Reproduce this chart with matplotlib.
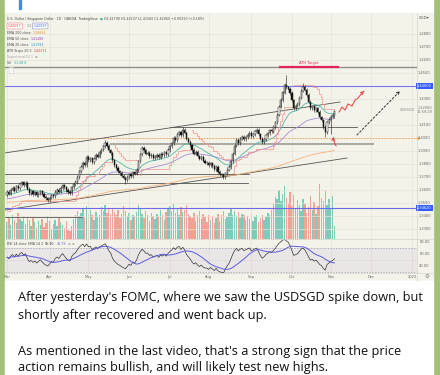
import numpy as np
import matplotlib
matplotlib.use("Agg")
import matplotlib.pyplot as plt
from matplotlib.patches import Rectangle
from matplotlib.transforms import blended_transform_factory

######################################################################
# USDSGD daily closes, 1 Mar .. 3 Nov
closes = [
    1.3585, 1.3572, 1.3601, 1.3618, 1.3596, 1.3630, 1.3612, 1.3645, 1.3660, 1.3638,
    1.3654, 1.3610, 1.3577, 1.3590, 1.3568, 1.3582, 1.3560, 1.3575, 1.3590, 1.3570,
    1.3548, 1.3535, 1.3523, 1.3540, 1.3560, 1.3552, 1.3585, 1.3600, 1.3588, 1.3615,
    1.3638, 1.3620, 1.3600, 1.3585, 1.3577, 1.3620, 1.3645, 1.3662, 1.3700, 1.3745,
    1.3777, 1.3810, 1.3790, 1.3854, 1.3830, 1.3845, 1.3815, 1.3840, 1.3870, 1.3855,
    1.3892, 1.3910, 1.3935, 1.3962, 1.3940, 1.3905, 1.3885, 1.3830, 1.3792, 1.3770,
    1.3745, 1.3731, 1.3710, 1.3695, 1.3677, 1.3700, 1.3720, 1.3705, 1.3738, 1.3725,
    1.3754, 1.3820, 1.3875, 1.3923, 1.3905, 1.3880, 1.3885, 1.3860, 1.3872, 1.3845,
    1.3854, 1.3870, 1.3850, 1.3880, 1.3869, 1.3890, 1.3875, 1.3908, 1.3935, 1.3960,
    1.4000, 1.3985, 1.4030, 1.4045, 1.4020, 1.4062, 1.4040, 1.3995, 1.3970, 1.3945,
    1.3908, 1.3880, 1.3895, 1.3860, 1.3840, 1.3855, 1.3825, 1.3810, 1.3808, 1.3790,
    1.3805, 1.3785, 1.3760, 1.3777, 1.3740, 1.3722, 1.3715, 1.3700, 1.3730, 1.3755,
    1.3777, 1.3820, 1.3880, 1.3940, 1.3985, 1.3960, 1.3995, 1.4010, 1.3990, 1.4005,
    1.4023, 1.4040, 1.4015, 1.4030, 1.4050, 1.4062, 1.4030, 1.3995, 1.3969, 1.3990,
    1.4020, 1.4035, 1.4060, 1.4050, 1.4085, 1.4120, 1.4180, 1.4240, 1.4292, 1.4350,
    1.4408, 1.4390, 1.4380, 1.4346, 1.4290, 1.4231, 1.4250, 1.4262, 1.4310, 1.4365,
    1.4392, 1.4370, 1.4331, 1.4280, 1.4231, 1.4245, 1.4215, 1.4230, 1.4200, 1.4160,
    1.4138, 1.4085, 1.4045, 1.4120, 1.4140, 1.4165, 1.4179, 1.4206,
]
first_open = 1.3560
# wicks that clearly stick out: bar index -> (high, low)
wick_marks = {53: (1.3985, None), 64: (None, 1.3650), 95: (1.4085, None),
              117: (None, 1.3685), 151: (1.4485, None), 160: (1.4423, None),
              172: (None, 1.4010), 175: (None, 1.4030), 177: (1.42137, 1.41560)}

# volume, thousands
volumes = [
    18, 22, 15, 25, 20, 17, 28, 21, 19, 24,
    16, 23, 20, 14, 22, 18, 12, 19, 15, 21,
    13, 17, 24, 19, 11, 16, 20, 14, 22, 18,
    15, 12, 19, 10, 8, 14, 21, 26, 30, 24,
    28, 33, 22, 35, 27, 31, 25, 20, 29, 23,
    26, 34, 30, 36, 28, 32, 27, 33, 29, 25,
    31, 22, 27, 35, 30, 24, 28, 20, 26, 23,
    29, 36, 33, 27, 22, 30, 25, 19, 28, 24,
    21, 27, 23, 31, 26, 20, 29, 33, 35, 30,
    37, 28, 32, 26, 34, 29, 31, 36, 27, 24,
    22, 28, 19, 25, 30, 21, 27, 23, 18, 26,
    20, 24, 17, 22, 27, 19, 25, 30, 21, 23,
    28, 33, 26, 30, 24, 29, 22, 27, 25, 20,
    24, 21, 27, 19, 23, 26, 18, 22, 25, 20,
    23, 28, 25, 31, 38, 45, 42, 52, 40, 48,
    56, 44, 38, 50, 35, 47, 33, 41, 36, 30,
    43, 37, 28, 34, 46, 31, 39, 27, 35, 58,
    44, 40, 52, 36, 42, 33, 46, 14,
]

# time axis: bar index where each month starts
month_idx = [0, 23, 44, 66, 88, 109, 132, 154, 175, 197, 219]
month_labels = ["Mar", "Apr", "May", "Jun", "Jul", "Aug", "Sep", "Oct", "Nov", "Dec", "2023"]

price_ticks = [1.48, 1.47, 1.46, 1.45, 1.43, 1.41, 1.40, 1.39, 1.38,
               1.37, 1.36, 1.35, 1.34, 1.33]
rsi_ticks = [80, 60, 40]

# drawings on the chart (bar index, price)
ath_level = 1.4546
blue_top = 1.4400
blue_low = 1.3462
round_level = 1.4000
upper_trend = ([-1.1, 180.0], [1.3885, 1.4277])
lower_trend = ([-1.1, 183.8], [1.3446, 1.3846])
hlines = [  # level, start, end, width, colour
    (1.4085, 88, 189, 0.6, "#555555"),
    (1.3954, 56, 198, 1.4, "#a9a9a4"),
    (1.3723, -1.1, 131, 0.6, "#555555"),
    (1.3654, -1.1, 130, 0.6, "#555555"),
    (1.3392, -1.1, 40.5, 0.6, "#555555"),
]
wave_i = [179.5, 181.1, 182.7, 184.3, 186.5, 188.1, 189.7, 191.9, 194.1]
wave_p = [1.4200, 1.4238, 1.4215, 1.4262, 1.4246, 1.4292, 1.4308, 1.4346, 1.4377]
dash_arrow = ((188.1, 1.4008), (213.5, 1.4377))
small_arrow = ((178.9, 1.3923), (176.8, 1.4031))

BG = "#f4f3ea"
TXT = "#4a4a4a"
W, H = 440, 375


def fx(x):
    return x / W


def fy(y):
    return 1 - y / H


def ema(values, n, seed):
    a = 2.0 / (n + 1)
    out, e = [], seed
    for v in values:
        e = e + a * (v - e)
        out.append(e)
    return np.array(out)


c = np.array(closes)
o = np.concatenate([[first_open], c[:-1]])
pad = 0.0012
hi = np.maximum(o, c) + pad
lo = np.minimum(o, c) - pad
for k, (h_, l_) in wick_marks.items():
    if h_ is not None:
        hi[k] = h_
    if l_ is not None:
        lo[k] = l_
x = np.arange(len(c))

ema20 = ema(c, 20, 1.3560)
ema50 = ema(c, 50, 1.3530)
ema200 = ema(c, 200, 1.3505)

# ATR stops (20, 3)
prev_c = np.concatenate([[o[0]], c[:-1]])
tr = np.maximum(hi - lo, np.maximum(abs(hi - prev_c), abs(lo - prev_c)))
atr = np.zeros_like(tr)
atr[0] = tr[0]
for k in range(1, len(tr)):
    atr[k] = atr[k - 1] + (tr[k] - atr[k - 1]) / 20
stops = np.zeros_like(c)
trend = 1
stops[0] = c[0] - 3 * atr[0]
breaks = []
for k in range(1, len(c)):
    if trend == 1:
        s = max(stops[k - 1], c[k] - 3 * atr[k])
        if c[k] < s:
            trend, s = -1, c[k] + 3 * atr[k]
            breaks.append(k)
    else:
        s = min(stops[k - 1], c[k] + 3 * atr[k])
        if c[k] > s:
            trend, s = 1, c[k] - 3 * atr[k]
            breaks.append(k)
    stops[k] = s

# RSI 14 and its SMA 14
d = np.diff(c, prepend=first_open)
gain, loss = np.clip(d, 0, None), np.clip(-d, 0, None)
ag, al = np.zeros_like(c), np.zeros_like(c)
ag[0], al[0] = 0.0012, 0.0010
for k in range(1, len(c)):
    ag[k] = ag[k - 1] + (gain[k] - ag[k - 1]) / 14
    al[k] = al[k - 1] + (loss[k] - al[k - 1]) / 14
rsi = 100 - 100 / (1 + ag / al)
rsi_ma = np.array([rsi[max(0, k - 13):k + 1].mean() for k in range(len(rsi))])

######################################################################
fig = plt.figure(figsize=(4.4, 3.75), dpi=100, facecolor="#a2c076")
for (x0, y0, x1, y1, col) in [(5, 0, 433, 13, "white"), (5, 13, 433, 281, BG),
                              (5, 281, 433, 375, "white"), (19, 0, 21, 9, "#3390ec")]:
    fig.patches.append(Rectangle((fx(x0), fy(y1)), fx(x1 - x0), (y1 - y0) / H,
                                 transform=fig.transFigure, color=col, zorder=-10))

ax = fig.add_axes([fx(5), fy(239), fx(412), (239 - 13) / H])
vax = ax.twinx()
rax = fig.add_axes([fx(5), fy(273), fx(412), (273 - 239) / H])

xlim = (-1.1, 221.6)
ymin, ymax = 1.40 - 101 / 1300, 1.40 + 125 / 1300

# volume behind the price pane
vax.set_zorder(0.5)
ax.set_zorder(1)
rax.set_zorder(1)
ax.patch.set_visible(False)
vax.patch.set_visible(False)
vcol = ["#7fcbbb" if cc >= oo else "#f2a196" for oo, cc in zip(o, c)]
vax.bar(x, volumes, width=0.75, color=vcol, linewidth=0)
vax.set_ylim(0, 240)
vax.set_xlim(-1.1, 221.6)
vax.set_yticks([])
for s in vax.spines.values():
    s.set_visible(False)

for a_ in (ax, rax):
    a_.set_xlim(*xlim)
    a_.set_xticks([])
    a_.set_yticks([])
    for s in a_.spines.values():
        s.set_visible(False)

ax.set_ylim(ymin, ymax)
for m in month_idx:
    ax.axvline(m, color="#e6e4d8", lw=0.5, zorder=0)
    rax.axvline(m, color="#e6e4d8", lw=0.5, zorder=0)
for p in price_ticks:
    ax.axhline(p, color="#e6e4d8", lw=0.5, zorder=0)

# levels and trendlines
ax.axhline(ath_level, color="#8f8f8a", lw=1.0, zorder=2)
ax.plot([147.6, 178.9], [ath_level, ath_level], color="#e0245e", lw=1.6, zorder=3)
ax.text(163, ath_level + 0.0012, "ATH Target", color="#e0245e", fontsize=2.6,
        ha="center", va="bottom")
ax.axhline(blue_top, color="#7878ee", lw=0.8, zorder=2)
ax.axhline(blue_low, color="#6b6bea", lw=0.8, zorder=4)
ax.axhline(round_level, color="#f0a050", lw=0.7, ls=(0, (1.5, 1.5)), zorder=2)
ax.plot(*upper_trend, color="#555555", lw=0.6, zorder=2)
ax.plot(*lower_trend, color="#555555", lw=0.6, zorder=2)
for lvl, x0, x1, lw, col in hlines:
    ax.plot([x0, x1], [lvl, lvl], color=col, lw=lw, zorder=2)

# moving averages and stops
ax.plot(x, ema200, color="#f2b27a", lw=0.6, zorder=3)
ax.plot(x, ema50, color="#a98ad6", lw=0.6, zorder=3)
ax.plot(x, ema20, color="#4fb8a5", lw=0.6, zorder=3)
seg_start = 0
for b in breaks + [len(c)]:
    ax.step(x[seg_start:b], stops[seg_start:b], where="mid", color="#f0948a",
            lw=0.5, zorder=3)
    seg_start = b

# candles
ax.vlines(x, lo, hi, color="#1a1a1a", lw=0.4, zorder=5)
body_col = ["white" if cc >= oo else "#111111" for oo, cc in zip(o, c)]
ax.bar(x, c - o, bottom=o, width=0.66, color=body_col, edgecolor="#1a1a1a",
       linewidth=0.35, zorder=6)

# hand drawings
ax.plot(wave_i[:-1], wave_p[:-1], color="#e03c3c", lw=0.7, zorder=7)
ax.annotate("", xy=(wave_i[-1], wave_p[-1]), xytext=(wave_i[-2], wave_p[-2]),
            arrowprops=dict(arrowstyle="->", color="#e03c3c", lw=0.7,
                            mutation_scale=5), zorder=7)
ax.annotate("", xy=dash_arrow[1], xytext=dash_arrow[0],
            arrowprops=dict(arrowstyle="->", color="#333333", lw=0.7, ls=(0, (2, 2)),
                            mutation_scale=5), zorder=7)
ax.annotate("", xy=small_arrow[1], xytext=small_arrow[0],
            arrowprops=dict(arrowstyle="->", color="#e03c3c", lw=0.7,
                            connectionstyle="arc3,rad=-0.3", mutation_scale=5),
            zorder=7)

# RSI pane
rax.set_ylim(28.3, 85)
rax.patch.set_facecolor(BG)
rax.axhspan(30, 70, color="#7e57c2", alpha=0.08, lw=0)
rax.axhline(70, color="#9a96b0", lw=0.5, ls=(0, (2, 2)))
rax.axhline(30, color="#9a96b0", lw=0.5, ls=(0, (2, 2)))
rax.axhline(50, color="#b8b4c8", lw=0.4, ls=(0, (1, 2)))
rax.plot(x, rsi, color="#333333", lw=0.5)
rax.plot(x, rsi_ma, color="#5c5ce0", lw=0.7)

# separators
fig.add_artist(plt.Line2D([fx(417), fx(417)], [fy(281), fy(13)], color="#d6d4c8", lw=0.5))
for yy in (239, 273):
    fig.add_artist(plt.Line2D([fx(5), fx(433)], [fy(yy), fy(yy)], color="#d6d4c8", lw=0.5))

# price scale
tr_p = blended_transform_factory(fig.transFigure, ax.transData)
for p in price_ticks:
    ax.text(fx(424.5), p, f"{p:.4f}", transform=tr_p, fontsize=2.6, color="#666666",
            ha="center", va="center", clip_on=False)
for p, lbl in [(blue_top, "1.44000"), (blue_low, "1.34620")]:
    ax.text(fx(424.5), p, lbl, transform=tr_p, fontsize=2.6, color="white",
            ha="center", va="center", clip_on=False,
            bbox=dict(boxstyle="square,pad=0.25", fc="#2f5bff", ec="none"))
ax.text(fx(424.5), c[-1] + 0.0006, "1.42060\n11:59:29", transform=tr_p, fontsize=2.5,
        color="#777777", ha="center", va="center", clip_on=False, linespacing=1.0)
ax.text(fx(415), c[-1] + 0.0012, "USDSGD", transform=tr_p, fontsize=2.5,
        color="#888888", ha="right", va="center", clip_on=False)
ax.plot([fx(417.5)], [round_level], marker=">", ms=1.6, color="#f0a050",
        transform=tr_p, clip_on=False)
fig.text(fx(424), fy(18), "SGD\u25be", fontsize=2.8, color="#555555", ha="center", va="center")

tr_r = blended_transform_factory(fig.transFigure, rax.transData)
for r in rsi_ticks:
    rax.text(fx(424.5), r, f"{r:.2f}", transform=tr_r, fontsize=2.6, color="#666666",
             ha="center", va="center", clip_on=False)

# time scale
tr_t = blended_transform_factory(ax.transData, fig.transFigure)
for m, lbl in zip(month_idx, month_labels):
    ax.text(m, fy(277), lbl, transform=tr_t, fontsize=2.6, color="#666666",
            ha="center", va="center", clip_on=False)
fig.text(fx(427), fy(277), "\u2699", fontsize=4, color="#777777", ha="center", va="center")

# legend block: pieces of one row are set one after the other
fs = 2.35
renderer = fig.canvas.get_renderer()


def row(xpx, ypx, parts, gap=1.8):
    for txt, col, box in parts:
        kw = {}
        if box:
            kw["bbox"] = dict(boxstyle="round,pad=0.3", fc="white", ec=box, lw=0.4)
        t = fig.text(fx(xpx), fy(ypx), txt, fontsize=fs, color=col, va="center", **kw)
        xpx += t.get_window_extent(renderer).width + gap + (3 if box else 0)


row(7, 19, [("U.S. Dollar / Singapore Dollar \u00b7 1D \u00b7 OANDA  TradingView", TXT, None),
            ("\u25cf", "#26a69a", None),
            ("O1.41790 H1.42137 L1.41560 C1.42060 +0.00290 (+0.18%)", TXT, None)])
row(8, 26, [("1.42057", "#e03c3c", "#ee8888"), ("3.1", "#888888", None),
            ("1.42097", "#2f5bff", "#8888cc")])
row(7, 33, [("EMA 200 close", TXT, None), ("1.38854", "#f08c2a", None)])
row(7, 39, [("EMA 50 close", TXT, None), ("1.41486", "#a040c0", None)])
row(7, 45, [("EMA 20 close", TXT, None), ("1.41994", "#2a9ad0", None)])
row(7, 51, [("ATR Stops 20 3", TXT, None), ("1.42371", "#e03c3c", None)])
row(7, 57, [("Supertrend 10 3", "#aaaaaa", None), ("\u2298", "#888888", None)])
row(7, 63, [("Vol", TXT, None), ("31.38 K", "#26a69a", None)])
fig.text(fx(11), fy(70), "\u02c4", fontsize=fs, color="#777777", va="center", ha="center",
         bbox=dict(boxstyle="square,pad=0.3", fc="white", ec="#cccccc", lw=0.4))
row(7, 244, [("RSI 14 close SMA 14 2", TXT, None), ("55.90", "#333333", None),
             ("46.79", "#5c5ce0", None), ("\u2298", "#888888", None),
             ("\u2298", "#888888", None)])

# message text
msg = [
    (298, "After yesterday's FOMC, where we saw the USDSGD spike down, but"),
    (315, "shortly after recovered and went back up."),
    (351, "As mentioned in the last video, that's a strong sign that the price"),
    (367, "action remains bullish, and will likely test new highs."),
]
for yy, line in msg:
    fig.text(fx(18), fy(yy), line, fontsize=9.2, family="Open Sans", color="#111111",
             va="center")

fig.savefig("out.png", dpi=100, facecolor=fig.get_facecolor())
